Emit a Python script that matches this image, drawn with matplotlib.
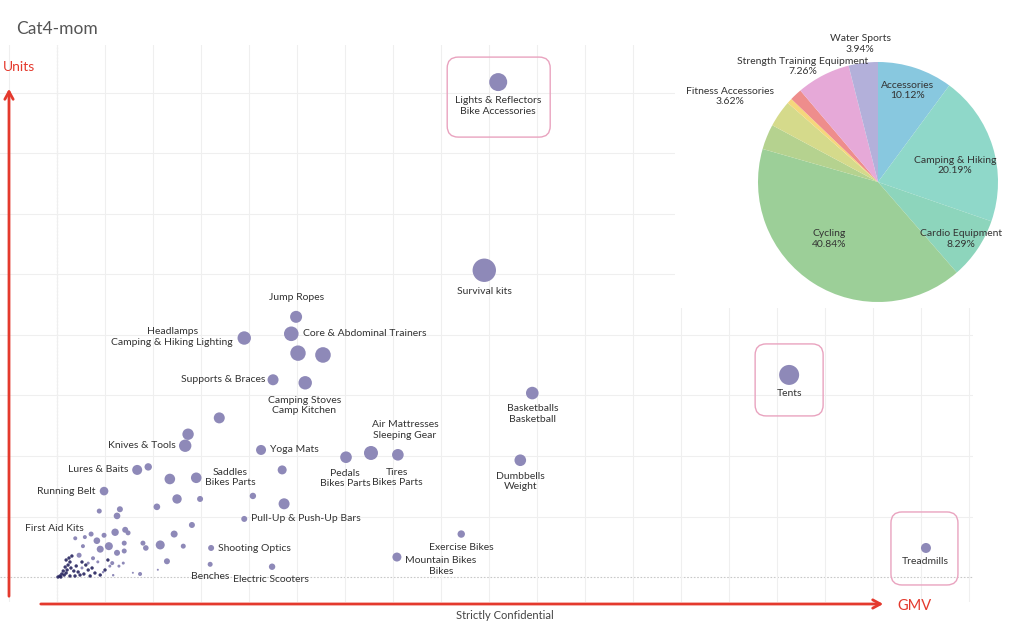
import numpy as np
import matplotlib
matplotlib.use("Agg")
import matplotlib.pyplot as plt
from matplotlib.patches import FancyBboxPatch, Rectangle
import matplotlib.transforms as mtransforms

plt.rcParams['font.family'] = ['Lato', 'DejaVu Sans']

# ---------------- data ----------------
# labelled / main sub-categories: GMV, Units, bubble volume (MoM)
names = ["Lights & Reflectors\nBike Accessories", "Survival kits", "Jump Ropes",
         "Core & Abdominal Trainers", "Headlamps\nCamping & Hiking Lighting", "", "",
         "Supports & Braces", "Camping Stoves\nCamp Kitchen", "Basketballs\nBasketball",
         "Tents", "", "Air Mattresses\nSleeping Gear", "Tires\nBikes Parts",
         "Pedals\nBikes Parts", "Yoga Mats", "Knives & Tools", "", "Dumbbells\nWeight",
         "Lures & Baits", "", "Saddles\nBikes Parts", "", "Running Belt", "",
         "Pull-Up & Push-Up Bars", "", "", "", "", "", "Shooting Optics", "Benches",
         "Electric Scooters", "Exercise Bikes", "Mountain Bikes\nBikes", "Treadmills",
         "First Aid Kits"]
gmv = [91.9, 89.0, 49.8, 48.8, 39.0, 50.2, 55.4, 45.0, 51.7, 99.0,
       152.5, 33.8, 65.4, 71.0, 60.2, 42.5, 26.7, 27.3, 96.5, 16.7,
       19.0, 29.0, 23.5, 9.8, 46.9, 39.0, 47.3, 40.8, 25.0, 29.8,
       20.8, 32.1, 31.9, 44.8, 84.2, 70.8, 181.0, 7.1]
units = [818, 507, 430, 402, 395, 370, 367, 326, 321, 304,
         334, 263, 205, 202, 198, 210, 217, 236, 193, 177,
         182, 164, 162, 142, 177, 96, 121, 134, 129, 129,
         116, 48, 21, 17, 71, 33, 48, 71]
volume = [324, 548, 144, 213, 180, 237, 243, 121, 180, 159,
          400, 121, 196, 135, 135, 100, 154, 130, 135, 100,
          55, 112, 112, 74, 81, 36, 121, 41, 88, 36,
          44, 36, 25, 41, 55, 81, 100, 25]

# long tail of small sub-categories
tail_gmv = [8.8, 13.1, 12.5, 28.1, 24.4, 21.5, 26.3, 22.9, 12.1, 14.2, 14.8, 10.8, 8.3,
            9.8, 5.8, 3.8, 5.4, 9.0, 14.0, 14.0, 12.5, 17.9, 18.5, 12.9, 11.0, 17.3,
            11.7, 4.6, 21.0, 11.5, 6.5, 7.5, 8.5, 5.2, 9.6, 15.8, 13.8]
tail_units = [109, 112, 101, 86, 71, 53, 51, 26, 74, 78, 73, 51, 60,
              69, 66, 64, 51, 46, 56, 43, 40, 56, 48, 18, 18, 5,
              3, 36, 12, 23, 23, 31, 25, 15, 8, 7, 23]
tail_volume = [25, 36, 44, 36, 49, 81, 25, 36, 55, 36, 25, 64, 44,
               25, 16, 16, 16, 49, 25, 25, 36, 25, 31, 9, 9, 16,
               6, 25, 4, 16, 9, 16, 9, 9, 6, 4, 9]

# very small, dense items near the origin
dense_gmv = [0.6, 1.0, 1.5, 1.9, 1.3, 2.1, 1.7, 2.3, 2.7, 1.9, 2.5, 3.1, 2.9, 3.5, 4.0,
             4.4, 4.8, 5.6, 6.5, 7.3, 7.9, 0.2, 0.8, 2.7, 3.75, 5.2, 6.0, 6.9, 9.0, 10.0, 10.6]
dense_units = [1.7, 5.0, 3.3, 6.6, 9.9, 11.6, 16.5, 19.8, 24.8, 28.1, 31.4, 34.7, 14.9, 9.9, 18.2,
               8.3, 3.3, 5.0, 11.6, 14.9, 6.6, 0, 0, 1.7, 1.7, 24.8, 19.8, 1.7, 3.3, 11.6, 28.1]

# pie: category share of GMV (%)
pie_cats = ["Accessories", "Camping & Hiking", "Cardio Equipment", "Cycling",
            "Other A", "Fitness Accessories", "Other B", "Other C",
            "Strength Training Equipment", "Water Sports"]
pie_share = [10.12, 20.19, 8.29, 40.84, 3.40, 3.62, 0.70, 1.64, 7.26, 3.94]

# ---------------- layout / style ----------------
W, H = 1017, 621
fig = plt.figure(figsize=(W / 100, H / 100), dpi=100)
fig.patch.set_facecolor("white")

def fx(px):
    return px / W

def fy(py):
    return 1 - py / H

TXT = "#333333"
PT = 0.72  # points per pixel

ax = fig.add_axes([0, fy(602), 973 / W, (602 - 45) / H])
ax.set_zorder(0)
ax.set_xlim(-11.875, 190.8)
ax.set_ylim(-41.3, 879.3)
ax.set_xticks(np.arange(-10, 191, 10))
ax.set_yticks(np.arange(100, 900, 100))
ax.tick_params(length=0, labelbottom=False, labelleft=False)
ax.grid(color="#efefef", lw=0.8)
for s in ax.spines.values():
    s.set_visible(False)
ax.axvline(0, color="#c8c8c8", lw=0.8, ls=(0, (1.5, 1.5)), zorder=1)
ax.axhline(0, color="#c8c8c8", lw=0.8, ls=(0, (1.5, 1.5)), zorder=1)

purple = "#8e89b8"
ax.scatter(gmv, units, s=np.array(volume) * 0.5184, c=purple, edgecolors="none", zorder=3)
ax.scatter(tail_gmv, tail_units, s=np.array(tail_volume) * 0.5184, c=purple,
           edgecolors="none", zorder=3)
ax.scatter(dense_gmv, dense_units, s=6, c="#27245f", edgecolors="none", zorder=4, alpha=0.9)

# label offsets in pixels (dx, dy upward, ha)
label_layout = {
    "Lights & Reflectors\nBike Accessories": (0, -24, "center"),
    "Survival kits": (0, -21, "center"),
    "Jump Ropes": (0, 19, "center"),
    "Core & Abdominal Trainers": (12, 0, "left"),
    "Headlamps\nCamping & Hiking Lighting": (-11, 1, "right"),
    "Supports & Braces": (-8, 0, "right"),
    "Camping Stoves\nCamp Kitchen": (-1, -23, "center"),
    "Basketballs\nBasketball": (0, -21, "center"),
    "Tents": (0, -19, "center"),
    "Air Mattresses\nSleeping Gear": (34, 23, "center"),
    "Tires\nBikes Parts": (-1, -23, "center"),
    "Pedals\nBikes Parts": (-1, -21, "center"),
    "Yoga Mats": (9, 0, "left"),
    "Knives & Tools": (-9, 0, "right"),
    "Dumbbells\nWeight": (0, -21, "center"),
    "Lures & Baits": (-9, 0, "right"),
    "Saddles\nBikes Parts": (34, 0, "center"),
    "Running Belt": (-9, 0, "right"),
    "Pull-Up & Push-Up Bars": (7, 0, "left"),
    "Shooting Optics": (7, -1, "left"),
    "Benches": (0, -12, "center"),
    "Electric Scooters": (-1, -13, "center"),
    "Exercise Bikes": (0, -13, "center"),
    "Mountain Bikes\nBikes": (44, -9, "center"),
    "Treadmills": (-1, -14, "center"),
    "First Aid Kits": (-7, 6, "right"),
}
for n, x, y in zip(names, gmv, units):
    if n in label_layout:
        dx, dy, ha = label_layout[n]
        ax.annotate(n, (x, y), xytext=(dx * PT, dy * PT), textcoords="offset points",
                    ha=ha, va="center", multialignment="center", fontsize=7.5,
                    color=TXT, zorder=5, annotation_clip=False)

# highlight boxes (pixel extents around the point: left, right, top, bottom)
highlight = {
    "Lights & Reflectors\nBike Accessories": (51, 52, 25, 55),
    "Tents": (34, 34, 31, 41),
    "Treadmills": (35, 32, 36, 37),
}
for n, x, y in zip(names, gmv, units):
    if n in highlight:
        l, r, t, b = highlight[n]
        px, py = ax.transData.transform((x, y))
        box = FancyBboxPatch((px - l, py - b), l + r, t + b,
                             boxstyle="round,pad=0,rounding_size=11",
                             transform=mtransforms.IdentityTransform(),
                             fill=False, ec="#e9a3bf", lw=1.0, zorder=6)
        fig.add_artist(box)

# axis arrows
red = "#e4392d"
ax.annotate("", xy=(9, H - 86), xytext=(9, H - 599), xycoords="figure pixels",
            textcoords="figure pixels", annotation_clip=False,
            arrowprops=dict(arrowstyle="->,head_length=0.55,head_width=0.3", color=red, lw=2.0))
ax.annotate("", xy=(886, H - 604), xytext=(38, H - 604), xycoords="figure pixels",
            textcoords="figure pixels", annotation_clip=False,
            arrowprops=dict(arrowstyle="->,head_length=0.55,head_width=0.3", color=red, lw=2.0))
fig.text(fx(3), fy(67), "Units", color=red, fontsize=10, va="center", ha="left")
fig.text(fx(897), fy(606), "GMV", color=red, fontsize=10.5, va="center", ha="left")

fig.text(fx(16), fy(29), "Cat4-mom", color="#555555", fontsize=12.5, va="center", ha="left")
fig.text(fx(505), 0.0, "Strictly Confidential", color="#444444", fontsize=8,
         va="bottom", ha="center")

# white panel behind the pie
panel = Rectangle((fx(675), fy(308)), (W - 675) / W, 308 / H, transform=fig.transFigure,
                  facecolor="white", edgecolor="none", zorder=1)
fig.add_artist(panel)

pie_colors = ["#88c8df", "#8fd8c9", "#8dd5bc", "#9ccf98", "#b5d28f", "#d5da8b",
              "#f5d77c", "#ee8d8c", "#e6a9d8", "#b3b0da"]
pa = fig.add_axes([fx(758), fy(302), 240 / W, 240 / H])
pa.set_zorder(2)
pa.pie(pie_share, colors=pie_colors, startangle=90, counterclock=False, radius=1,
       wedgeprops=dict(linewidth=0))
pa.set_xlim(-1, 1)
pa.set_ylim(-1, 1)
pa.set_aspect("equal")
pa.axis("off")

pie_label_pos = {
    "Accessories": (0.25, 0.76),
    "Camping & Hiking": (0.64, 0.14),
    "Cardio Equipment": (0.69, -0.475),
    "Cycling": (-0.41, -0.475),
    "Fitness Accessories": (-1.23, 0.71),
    "Strength Training Equipment": (-0.63, 0.96),
    "Water Sports": (-0.15, 1.15),
}
for c, v in zip(pie_cats, pie_share):
    if v >= 3.5 and c in pie_label_pos:
        lx, ly = pie_label_pos[c]
        pa.text(lx, ly, f"{c}\n{v:.2f}%", ha="center", va="center", fontsize=7.5,
                color=TXT, clip_on=False, linespacing=1.15)

fig.savefig("out.png", dpi=100)
